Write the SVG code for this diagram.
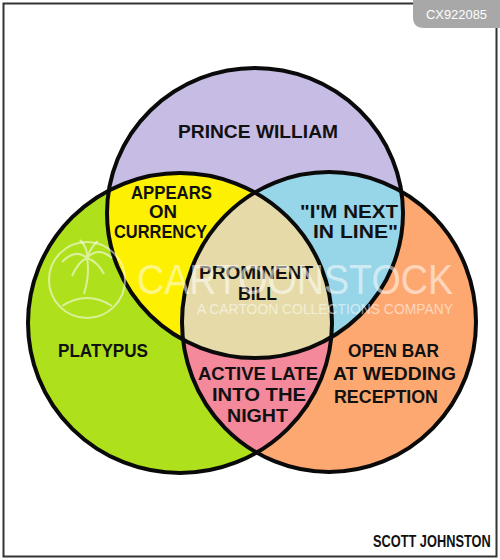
<svg xmlns="http://www.w3.org/2000/svg" width="500" height="560" viewBox="0 0 500 560">
<style>
.o{fill:none;stroke:#0a0a0a;stroke-width:4}
.t{font-family:"Liberation Sans",Arial,sans-serif;font-weight:700;font-size:19px;fill:#111;text-anchor:start}
.w{font-family:"Liberation Sans",Arial,sans-serif;fill:#fff;fill-opacity:.55}
.l{fill:none;stroke:#fff;stroke-opacity:.55;stroke-width:2}
</style>
<defs>
<clipPath id="cT"><ellipse cx="255" cy="213" rx="148" ry="145"/></clipPath>
<clipPath id="cL"><ellipse cx="180" cy="323" rx="152" ry="150"/></clipPath>
</defs>
<rect width="500" height="560" fill="#fff"/>
<rect x="3.5" y="3.5" width="493" height="553" fill="none" stroke="#333" stroke-width="2"/>
<g id="circle-prince-william"><ellipse cx="255" cy="213" rx="148" ry="145" fill="#c6bce4"/></g>
<g id="circle-platypus"><ellipse cx="180" cy="323" rx="152" ry="150" fill="#afe01c"/></g>
<g id="circle-open-bar"><ellipse cx="329" cy="322" rx="147" ry="150" fill="#fda871"/></g>
<g id="region-currency" clip-path="url(#cT)"><ellipse cx="180" cy="323" rx="152" ry="150" fill="#fdf000"/></g>
<g id="region-next" clip-path="url(#cT)"><ellipse cx="329" cy="322" rx="147" ry="150" fill="#97d5e8"/></g>
<g id="region-late" clip-path="url(#cL)"><ellipse cx="329" cy="322" rx="147" ry="150" fill="#f4899b"/></g>
<g clip-path="url(#cT)"><g id="region-bill" clip-path="url(#cL)"><ellipse cx="329" cy="322" rx="147" ry="150" fill="#e6dba8"/></g></g>
<g id="connectors">
<ellipse class="o" cx="255" cy="213" rx="148" ry="145"/>
<ellipse class="o" cx="180" cy="323" rx="152" ry="150"/>
<ellipse class="o" cx="329" cy="322" rx="147" ry="150"/>
</g>
<g id="labels">
<text class="t" x="178" y="138" textLength="160" lengthAdjust="spacingAndGlyphs">PRINCE WILLIAM</text>
<text class="t" x="131" y="199" textLength="81" lengthAdjust="spacingAndGlyphs">APPEARS</text>
<text class="t" x="149" y="218" textLength="28" lengthAdjust="spacingAndGlyphs">ON</text>
<text class="t" x="114" y="238" textLength="93" lengthAdjust="spacingAndGlyphs">CURRENCY</text>
<text class="t" x="300" y="218" textLength="98" lengthAdjust="spacingAndGlyphs">"I'M NEXT</text>
<text class="t" x="313" y="238" textLength="85" lengthAdjust="spacingAndGlyphs">IN LINE"</text>
<text class="t" x="199" y="279" textLength="114" lengthAdjust="spacingAndGlyphs">PROMINENT</text>
<text class="t" x="238" y="300" textLength="39" lengthAdjust="spacingAndGlyphs">BILL</text>
<text class="t" x="58" y="357" textLength="90" lengthAdjust="spacingAndGlyphs">PLATYPUS</text>
<text class="t" x="348" y="357" textLength="91" lengthAdjust="spacingAndGlyphs">OPEN BAR</text>
<text class="t" x="333" y="380" textLength="123" lengthAdjust="spacingAndGlyphs">AT WEDDING</text>
<text class="t" x="334" y="403" textLength="104" lengthAdjust="spacingAndGlyphs">RECEPTION</text>
<text class="t" x="198" y="380" textLength="120" lengthAdjust="spacingAndGlyphs">ACTIVE LATE</text>
<text class="t" x="212" y="401" textLength="94" lengthAdjust="spacingAndGlyphs">INTO THE</text>
<text class="t" x="227" y="422" textLength="61" lengthAdjust="spacingAndGlyphs">NIGHT</text>
<text class="t" transform="translate(373 547) scale(1 1.35)" style="font-size:12.8px">SCOTT JOHNSTON</text>
</g>
<g id="watermark">
<circle class="l" cx="87" cy="280" r="38"/>
<path class="l" d="M62 306Q87 290 112 306M84 294Q90 275 87 258M87 258Q75 248 62 262M87 258Q78 262 72 276M87 258Q98 246 112 258M87 258Q98 262 104 274M87 258Q88 248 80 240M87 258Q90 248 98 241"/>
<text class="w" x="137" y="294" textLength="316" lengthAdjust="spacingAndGlyphs" font-size="42">CARTOONSTOCK</text>
<text class="w" x="197" y="314" textLength="256" lengthAdjust="spacingAndGlyphs" font-size="15">A CARTOON COLLECTIONS COMPANY</text>
</g>
<g id="tag">
<path d="M413 0H500V28H424Q413 28 413 17Z" fill="#a8a8a8"/>
<text x="426" y="19" font-family="Liberation Sans,Arial,sans-serif" font-size="13" fill="#fff" textLength="61" lengthAdjust="spacingAndGlyphs">CX922085</text>
</g>
</svg>
